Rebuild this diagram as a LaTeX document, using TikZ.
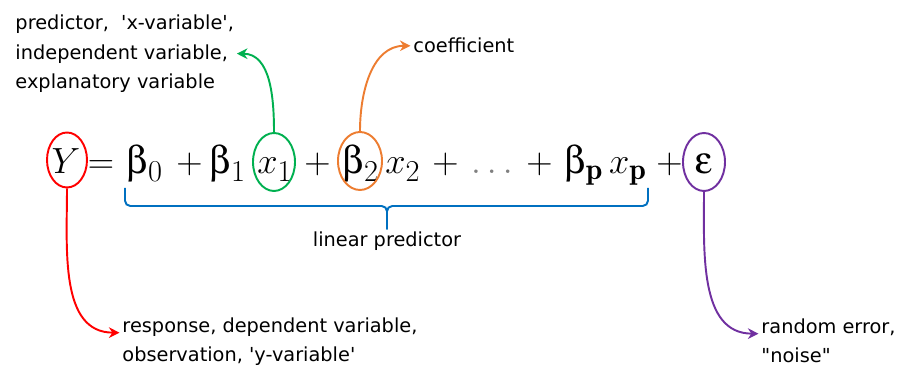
\documentclass[tikz,border=0pt]{standalone}
\usepackage{fontspec}
\usepackage{tikz}
\usepackage{xcolor}
\usepackage{amsmath}
\usepackage[Symbol]{upgreek}
\usetikzlibrary{shapes.geometric,arrows.meta}

\newfontfamily\lblfont{DejaVu Sans}
\DeclareMathSizes{22}{22}{17}{13}
\newcommand{\eqsize}{\fontsize{22}{26}\selectfont}
\newcommand{\bet}[1]{$\upbeta_{#1}$}

\definecolor{ycol}{RGB}{255,0,0}
\definecolor{xcol}{RGB}{0,176,80}
\definecolor{bcol}{RGB}{237,125,49}
\definecolor{ecol}{RGB}{112,48,160}
\definecolor{lcol}{RGB}{0,112,192}

\begin{document}
\begin{tikzpicture}[
    tok/.style={inner sep=0pt, anchor=base, font=\eqsize},
    ring/.style={ellipse, draw=#1, line width=1.1pt, inner sep=0pt,
        minimum width=0.84cm, minimum height=1.16cm},
    lbl/.style={font=\lblfont\fontsize{11}{16.7}\selectfont, align=left, inner sep=1.5pt},
    tag/.style={draw=#1, line width=1.1pt, -{Stealth[length=6pt,width=6pt]}}
]

\useasboundingbox (0,0) rectangle (17.94,7.34);

% the model
\node[tok] (Y) at (1.32,3.86) {$Y$};
\node[tok] (eq) at (2.02,3.86) {$=$};
\node[tok] (b0) at (2.90,3.86) {\bet{0}};
\node[tok] (p1) at (3.79,3.86) {$+$};
\node[tok] (b1) at (4.56,3.86) {\bet{1}};
\node[tok] (x1) at (5.50,3.86) {$x_1$};
\node[tok] (p2) at (6.35,3.86) {$+$};
\node[tok] (b2) at (7.22,3.86) {\bet{2}};
\node[tok] (x2) at (8.06,3.86) {$x_2$};
\node[tok] (p3) at (8.91,3.86) {$+$};
\node[tok, text=gray] (dots) at (9.84,3.86) {$\ldots$};
\node[tok] (p4) at (10.79,3.86) {$+$};
\node[tok] (bp) at (11.68,3.86) {\bet{\mathbf{p}}};
\node[tok] (xp) at (12.56,3.86) {$x_{\mathbf{p}}$};
\node[tok] (p5) at (13.39,3.86) {$+$};
\node[tok] (eps) at (14.08,3.86) {$\upepsilon$};

% circled terms
\node[ring=ycol, minimum width=0.80cm, minimum height=1.10cm] (Yc) at (1.34,4.14) {};
\node[ring=xcol] (x1c) at (5.48,4.10) {};
\node[ring=bcol, minimum width=0.88cm] (b2c) at (7.20,4.12) {};
\node[ring=ecol] (epsc) at (14.08,4.10) {};

% labels
\node[lbl, anchor=north west] (xlab) at (0.25,7.10)
{predictor,~ \textquotesingle x-variable\textquotesingle,\\ independent variable,\\ explanatory variable};
\node[lbl, anchor=base west] (coef) at (8.21,6.28) {coefficient};
\node[lbl, anchor=base] (lin) at (7.74,2.40) {linear predictor};
\node[lbl, anchor=base west] (resp) at (2.39,0.10)
{response, dependent variable,\\ observation, \textquotesingle y-variable\textquotesingle};
\node[lbl, anchor=base west] (err) at (15.17,0.08)
{random error,\\ \textquotedbl noise\textquotedbl};

% brace under the linear predictor
\coordinate (bl) at (2.50,3.58);
\coordinate (br) at (12.96,3.58);
\coordinate (bh) at (7.74,3.22);
\draw[lcol, line width=1.1pt, rounded corners=3pt] (bl) |- (bh) -- (lin.north);
\draw[lcol, line width=1.1pt, rounded corners=3pt] (br) |- (bh) -- (lin.north);

% arrows
\draw[tag=xcol] (x1c.north) to[out=90,in=0] (xlab.east);
\draw[tag=bcol] (b2c.north) to[out=90,in=180] (coef.west);
\draw[tag=ycol] (Yc.south) to[out=-90,in=180] ([yshift=16.7pt]resp.base west);
\draw[tag=ecol] (epsc.south) to[out=-90,in=180] ([yshift=16.7pt]err.base west);

\end{tikzpicture}
\end{document}
